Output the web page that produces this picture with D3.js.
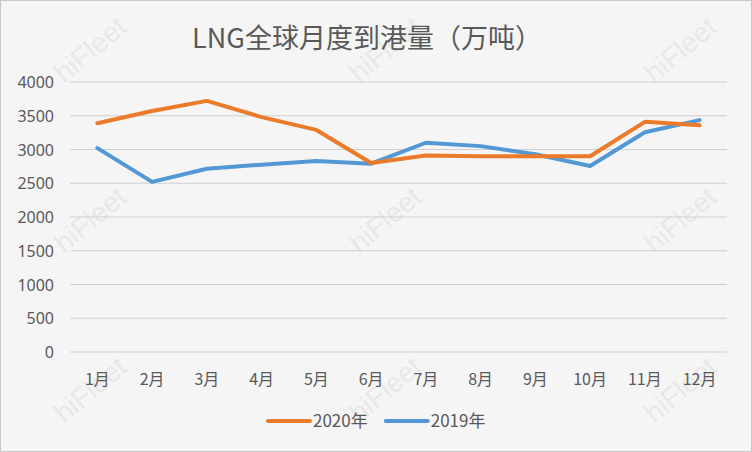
<!DOCTYPE html>
<html><head><meta charset="utf-8">
<script src="https://cdn.jsdelivr.net/npm/d3@7/dist/d3.min.js"></script>
<style>
html,body{margin:0;padding:0;background:#fff;}
svg{display:block;font-family:"Noto Sans CJK SC","Noto Sans",sans-serif;}
</style></head>
<body><svg id="c" width="752" height="452"></svg>
<script>
const categories = ["1月","2月","3月","4月","5月","6月","7月","8月","9月","10月","11月","12月"];
const series2020 = [3390,3570,3720,3480,3290,2800,2910,2900,2900,2900,3410,3360];
const series2019 = [3020,2520,2715,2775,2830,2790,3100,3050,2930,2755,3255,3435];
const yTicks = [0,500,1000,1500,2000,2500,3000,3500,4000];
const seriesNames = ["2020年","2019年"];
const colors = ["#EB7A2A","#5298D4"];

const W=752,H=452;
const svg=d3.select("#c");
svg.append("rect").attr("x",0.5).attr("y",0.5).attr("width",W-1).attr("height",H-1)
  .attr("fill","#f5f5f5").attr("stroke","#c8c8c8");

// watermarks
const wm=[[45,100],[340,100],[635,100],[45,270],[340,270],[635,270],[45,440],[340,440],[635,440]];
wm.forEach(([x,y])=>{
  const g=svg.append("g").attr("transform",`translate(${x},${y}) rotate(-40)`).attr("opacity",0.4);
  g.append("text").attr("x",25).attr("y",0).attr("font-size",28).attr("fill","#d6d6d6")
    .attr("font-family","Liberation Sans, sans-serif").text("hiFleet");
});

const x=d3.scaleBand().domain(categories).range([70,727]);
const y=d3.scaleLinear().domain([0,4000]).range([352,82]);

// gridlines
svg.append("g").selectAll("line").data(yTicks).join("line")
  .attr("x1",70).attr("x2",727).attr("y1",d=>y(d)).attr("y2",d=>y(d))
  .attr("stroke","#cfcfcf").attr("stroke-width",1);

// y labels
svg.append("g").selectAll("text").data(yTicks).join("text")
  .attr("x",54).attr("y",d=>y(d)+6).attr("text-anchor","end")
  .attr("font-size",16).attr("fill","#595959")
  .attr("font-family","Noto Sans, sans-serif").text(d=>d);

// x labels
svg.append("g").selectAll("text").data(categories).join("text")
  .attr("x",d=>x(d)+x.bandwidth()/2).attr("y",385).attr("text-anchor","middle")
  .attr("font-size",16).attr("fill","#595959").text(d=>d);

// title
svg.append("text").attr("x",367).attr("y",48).attr("text-anchor","middle")
  .attr("font-size",27).attr("fill","#595959").text("LNG全球月度到港量（万吨）");

const line=d3.line().x((d,i)=>x(categories[i])+x.bandwidth()/2).y(d=>y(d));
[series2019,series2020].forEach((s,k)=>{
  const c = k===0?colors[1]:colors[0];
  svg.append("path").attr("d",line(s)).attr("fill","none").attr("stroke",c)
    .attr("stroke-width",4).attr("stroke-linejoin","round").attr("stroke-linecap","round");
});

// legend
let lx=268;
const legend=svg.append("g");
seriesNames.forEach((n,i)=>{
  const g=legend.append("g");
  g.append("line").attr("x1",lx).attr("x2",lx+42).attr("y1",421).attr("y2",421)
    .attr("stroke",colors[i]).attr("stroke-width",4).attr("stroke-linecap","round");
  const t=g.append("text").attr("x",lx+45).attr("y",427).attr("font-size",17).attr("fill","#595959").text(n);
  lx += 45 + t.node().getComputedTextLength() + 18;
});
</script></body></html>
